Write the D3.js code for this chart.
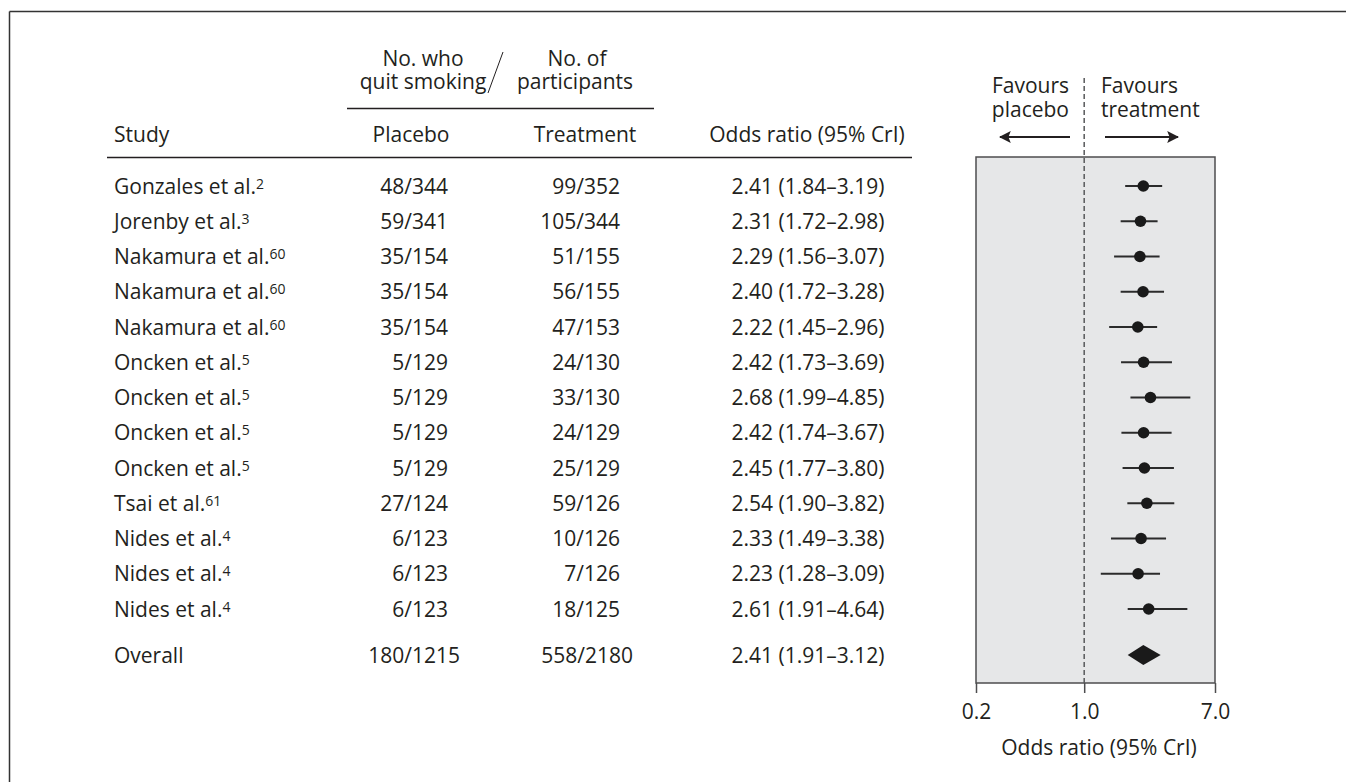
<!DOCTYPE html>
<html>
<head>
<meta charset="utf-8">
<script src="https://cdn.jsdelivr.net/npm/d3@7"></script>
<style>
  html, body { margin: 0; padding: 0; background: #fff; }
  svg { display: block; }
  text { font-family: "Open Sans", "Noto Sans", sans-serif; fill: #231f20; }
</style>
</head>
<body>
<svg id="chart" width="1346" height="782"></svg>
<script>
// Trials of treatment vs placebo for smoking cessation
const studies = ["Gonzales et al.", "Jorenby et al.", "Nakamura et al.", "Nakamura et al.", "Nakamura et al.",
  "Oncken et al.", "Oncken et al.", "Oncken et al.", "Oncken et al.", "Tsai et al.",
  "Nides et al.", "Nides et al.", "Nides et al."];
const refs = ["2", "3", "60", "60", "60", "5", "5", "5", "5", "61", "4", "4", "4"];
const placebo = ["48/344", "59/341", "35/154", "35/154", "35/154", "5/129", "5/129", "5/129", "5/129",
  "27/124", "6/123", "6/123", "6/123"];
const treatment = ["99/352", "105/344", "51/155", "56/155", "47/153", "24/130", "33/130", "24/129", "25/129",
  "59/126", "10/126", "7/126", "18/125"];
const oddsRatio = [2.41, 2.31, 2.29, 2.40, 2.22, 2.42, 2.68, 2.42, 2.45, 2.54, 2.33, 2.23, 2.61];
const crLow = [1.84, 1.72, 1.56, 1.72, 1.45, 1.73, 1.99, 1.74, 1.77, 1.90, 1.49, 1.28, 1.91];
const crHigh = [3.19, 2.98, 3.07, 3.28, 2.96, 3.69, 4.85, 3.67, 3.80, 3.82, 3.38, 3.09, 4.64];

const overallLabel = "Overall";
const overallPlacebo = "180/1215";
const overallTreatment = "558/2180";
const overallOR = 2.41, overallLow = 1.91, overallHigh = 3.12;

const axisTicks = [0.2, 1.0, 7.0];

const svg = d3.select("#chart");
const fs = 21;
const ink = "#231f20";

// outer frame (top and left edges)
svg.append("line").attr("x1", 9.5).attr("y1", 11.5).attr("x2", 1346).attr("y2", 11.5)
  .attr("stroke", "#333").attr("stroke-width", 1.5);
svg.append("line").attr("x1", 9.5).attr("y1", 11.5).attr("x2", 9.5).attr("y2", 782)
  .attr("stroke", "#333").attr("stroke-width", 1.5);

// scales
const rowY = d3.scaleLinear().domain([0, studies.length - 1]).range([186, 609]);
const overallY = 655;
const x = d3.scaleLog().domain([0.2, 7]).range([976, 1215]);
const plotTop = 157, plotBottom = 683;

const fmt = d3.format(".2f");
const orText = (v, l, h) => `${fmt(v)} (${fmt(l)}\u2013${fmt(h)})`;

// --- table headers ---
const hdr = svg.append("g").attr("font-size", fs);
hdr.append("text").attr("x", 423).attr("y", 66).attr("text-anchor", "middle").text("No. who");
hdr.append("text").attr("x", 423).attr("y", 89).attr("text-anchor", "middle").text("quit smoking");
hdr.append("text").attr("x", 577).attr("y", 66).attr("text-anchor", "middle").text("No. of");
hdr.append("text").attr("x", 575).attr("y", 89).attr("text-anchor", "middle").text("participants");
svg.append("line").attr("x1", 488).attr("y1", 93).attr("x2", 503).attr("y2", 52)
  .attr("stroke", ink).attr("stroke-width", 1);
svg.append("line").attr("x1", 347).attr("y1", 108.5).attr("x2", 654).attr("y2", 108.5)
  .attr("stroke", ink).attr("stroke-width", 1.5);

hdr.append("text").attr("x", 114).attr("y", 142).text("Study");
hdr.append("text").attr("x", 411).attr("y", 142).attr("text-anchor", "middle").text("Placebo");
hdr.append("text").attr("x", 585).attr("y", 142).attr("text-anchor", "middle").text("Treatment");
hdr.append("text").attr("x", 807).attr("y", 142).attr("text-anchor", "middle").text("Odds ratio (95% CrI)");
svg.append("line").attr("x1", 107).attr("y1", 157.5).attr("x2", 912).attr("y2", 157.5)
  .attr("stroke", ink).attr("stroke-width", 1.5);

// --- table rows ---
const rows = svg.append("g").attr("font-size", fs);
studies.forEach((s, i) => {
  const y = rowY(i) + 7.5;
  const t = rows.append("text").attr("x", 114).attr("y", y);
  t.append("tspan").text(s);
  t.append("tspan").attr("font-size", 14).attr("dy", -5).text(refs[i]);
  rows.append("text").attr("x", 448).attr("y", y).attr("text-anchor", "end").text(placebo[i]);
  rows.append("text").attr("x", 620).attr("y", y).attr("text-anchor", "end").text(treatment[i]);
  rows.append("text").attr("x", 808).attr("y", y).attr("text-anchor", "middle")
    .text(orText(oddsRatio[i], crLow[i], crHigh[i]));
});
rows.append("text").attr("x", 114).attr("y", overallY + 7.5).text(overallLabel);
rows.append("text").attr("x", 460).attr("y", overallY + 7.5).attr("text-anchor", "end").text(overallPlacebo);
rows.append("text").attr("x", 633).attr("y", overallY + 7.5).attr("text-anchor", "end").text(overallTreatment);
rows.append("text").attr("x", 808).attr("y", overallY + 7.5).attr("text-anchor", "middle")
  .text(orText(overallOR, overallLow, overallHigh));

// --- forest plot ---
const plot = svg.append("g");
plot.append("rect")
  .attr("x", x(0.2)).attr("y", plotTop)
  .attr("width", x(7) - x(0.2)).attr("height", plotBottom - plotTop)
  .attr("fill", "#e6e7e8").attr("stroke", "#4d4d4f").attr("stroke-width", 1.5);

// line of no effect
plot.append("line")
  .attr("x1", x(1)).attr("x2", x(1)).attr("y1", 78).attr("y2", plotBottom)
  .attr("stroke", "#58595b").attr("stroke-width", 1.5).attr("stroke-dasharray", "5,3");

// favours labels
const fav = svg.append("g").attr("font-size", fs);
fav.append("text").attr("x", 1069).attr("y", 93).attr("text-anchor", "end").text("Favours");
fav.append("text").attr("x", 1069).attr("y", 117).attr("text-anchor", "end").text("placebo");
fav.append("text").attr("x", 1101).attr("y", 93).text("Favours");
fav.append("text").attr("x", 1101).attr("y", 117).text("treatment");

svg.append("defs").append("marker")
  .attr("id", "arrowhead").attr("viewBox", "0 0 10 10")
  .attr("refX", 9).attr("refY", 5)
  .attr("markerWidth", 6).attr("markerHeight", 6).attr("markerUnits", "strokeWidth")
  .attr("orient", "auto")
  .append("path").attr("d", "M0,0 L10,5 L0,10 L2,5 Z").attr("fill", ink);
svg.append("line").attr("x1", 1070).attr("y1", 137).attr("x2", 1000).attr("y2", 137)
  .attr("stroke", ink).attr("stroke-width", 2).attr("marker-end", "url(#arrowhead)");
svg.append("line").attr("x1", 1105).attr("y1", 137).attr("x2", 1178).attr("y2", 137)
  .attr("stroke", ink).attr("stroke-width", 2).attr("marker-end", "url(#arrowhead)");

// credible intervals and point estimates
plot.selectAll("line.ci").data(oddsRatio).join("line").attr("class", "ci")
  .attr("x1", (d, i) => x(crLow[i])).attr("x2", (d, i) => x(crHigh[i]))
  .attr("y1", (d, i) => rowY(i)).attr("y2", (d, i) => rowY(i))
  .attr("stroke", "#2b2b2b").attr("stroke-width", 2);
plot.selectAll("circle.pt").data(oddsRatio).join("circle").attr("class", "pt")
  .attr("cx", d => x(d)).attr("cy", (d, i) => rowY(i)).attr("r", 5.8)
  .attr("fill", "#1a1a1a");

// pooled estimate diamond
plot.append("path")
  .attr("d", `M${x(overallLow)},${overallY} L${x(overallOR)},${overallY - 10} L${x(overallHigh)},${overallY} L${x(overallOR)},${overallY + 10} Z`)
  .attr("fill", "#1a1a1a");

// x axis
const axis = d3.axisBottom(x).tickValues(axisTicks).tickFormat(d3.format(".1f"))
  .tickSize(10).tickPadding(11);
const ax = svg.append("g").attr("transform", `translate(0,${plotBottom})`).call(axis);
ax.select(".domain").remove();
ax.selectAll(".tick line").attr("stroke", "#4d4d4f").attr("stroke-width", 1.5);
ax.selectAll(".tick text").attr("font-size", fs).attr("fill", ink)
  .attr("font-family", "'Open Sans', 'Noto Sans', sans-serif");

svg.append("text").attr("x", 1099).attr("y", 755).attr("text-anchor", "middle")
  .attr("font-size", fs).text("Odds ratio (95% CrI)");
</script>
</body>
</html>
